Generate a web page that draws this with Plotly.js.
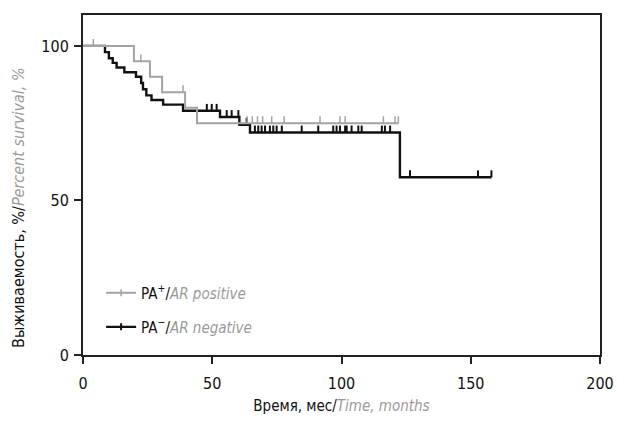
<!DOCTYPE html>
<html>
<head>
<meta charset="utf-8">
<script src="https://cdn.plot.ly/plotly-3.0.1.min.js"></script>
<style>html,body{margin:0;padding:0;background:#fff;}#chart{width:617px;height:429px;}</style>
</head>
<body>
<div id="chart"></div>
<script>
// ---- Data ----
// PA+/AR positive: step times (months) and survival (%)
const posTimes = [0, 19.7, 25.9, 30.6, 39.5, 44.1, 122];
const posSurv  = [100, 95, 90, 85, 80, 75, 75];
const posCensor = [4, 22.4, 38.7, 63.5, 65.5, 67.5, 69.5, 73, 77.8, 91.7, 99.4, 101.4, 116.2, 120.7, 122];

// PA-/AR negative
const negTimes = [0, 8.5, 10, 11.5, 13, 16, 20.5, 22.5, 23.2, 24.5, 26.5, 31, 38.7, 53, 60.5, 64.6, 122.6, 158];
const negSurv  = [100, 98, 96, 94.5, 93, 91.5, 90, 88, 86, 84, 82.5, 81, 79, 77, 74.5, 72, 57.5, 57.5];
const negCensor = [47.9, 49.8, 51.7, 55.6, 57.5, 60.1, 63.3, 66.5, 67.8, 69.1, 70.4, 72.3, 73.6, 74.9, 76.9, 84.6, 91.0, 96.8, 98.1, 99.4, 101.4, 102, 103.9, 106.5, 107.8, 115.6, 116.8, 118.8, 126.5, 152.8, 158];

const xTicks = [0, 50, 100, 150, 200];
const yTicks = [0, 50, 100];

const posLabel = "PA<sup>+</sup>/<i><span style='color:#9a9a9a'>AR positive</span></i>";
const negLabel = "PA<sup>−</sup>/<i><span style='color:#9a9a9a'>AR negative</span></i>";
const xTitle = "Время, мес/<i><span style='color:#9a9a9a'>Time, months</span></i>";
const yTitle = "Выживаемость, %/<i><span style='color:#9a9a9a'>Percent survival, %</span></i>";

// ---- Styles ----
const FONT = "'DejaVu Sans Condensed', 'Liberation Sans Narrow', sans-serif";
const GREY = '#a3a3a3';
const BLACK = '#111111';
const TICK_UP = 1.1; // lift censor ticks so they stand on the line

function survAt(t, times, surv) {
  let v = surv[0];
  for (let i = 0; i < times.length; i++) { if (times[i] <= t) v = surv[i]; }
  return v;
}

const traces = [
  {x: negTimes, y: negSurv, mode: 'lines', line: {shape: 'hv', color: BLACK, width: 2.4}, showlegend: false, hoverinfo: 'skip'},
  {x: negCensor, y: negCensor.map(t => survAt(t, negTimes, negSurv) + TICK_UP), mode: 'markers',
   marker: {symbol: 'line-ns', size: 5, line: {color: BLACK, width: 2}}, showlegend: false, hoverinfo: 'skip'},
  {x: posTimes, y: posSurv, mode: 'lines', line: {shape: 'hv', color: GREY, width: 2}, showlegend: false, hoverinfo: 'skip'},
  {x: posCensor, y: posCensor.map(t => survAt(t, posTimes, posSurv) + TICK_UP), mode: 'markers',
   marker: {symbol: 'line-ns', size: 5, line: {color: GREY, width: 1.5}}, showlegend: false, hoverinfo: 'skip'},
  // legend entries
  {x: [null], y: [null], mode: 'lines+markers', name: posLabel, legend: 'legend',
   line: {color: GREY, width: 2}, marker: {symbol: 'line-ns', size: 5, line: {color: GREY, width: 1.5}}},
  {x: [null], y: [null], mode: 'lines+markers', name: negLabel, legend: 'legend2',
   line: {color: BLACK, width: 2.4}, marker: {symbol: 'line-ns', size: 5, line: {color: BLACK, width: 2}}}
];

const axisCommon = {
  showline: true, linecolor: '#222', linewidth: 2, mirror: true,
  ticks: 'outside', ticklen: 7, tickwidth: 2, tickcolor: '#222',
  showgrid: false, zeroline: false, tickfont: {family: FONT, size: 16, color: '#111'}
};

const layout = {
  width: 617, height: 429,
  margin: {l: 83, r: 17, t: 15, b: 74},
  paper_bgcolor: '#fff', plot_bgcolor: '#fff',
  font: {family: FONT, color: '#111'},
  xaxis: Object.assign({}, axisCommon, {range: [0, 200], tickvals: xTicks, ticklabelstandoff: 6,
    title: {text: xTitle, font: {family: FONT, size: 15, color: '#111'}, standoff: 8}}),
  yaxis: Object.assign({}, axisCommon, {range: [0, 110], tickvals: yTicks, ticklabelstandoff: 2}),
  annotations: [{
    text: yTitle, xref: 'paper', yref: 'paper', x: -0.126, y: 0.435,
    xanchor: 'center', yanchor: 'middle', textangle: -90, showarrow: false,
    font: {family: FONT, size: 16, color: '#111'}
  }],
  legend: {x: 0.035, y: 0.182, yanchor: 'middle', xanchor: 'left', bgcolor: 'rgba(0,0,0,0)',
    itemwidth: 30, font: {family: FONT, size: 15, color: '#111'}},
  legend2: {x: 0.035, y: 0.082, yanchor: 'middle', xanchor: 'left', bgcolor: 'rgba(0,0,0,0)',
    itemwidth: 30, font: {family: FONT, size: 15, color: '#111'}},
  showlegend: true
};

Plotly.newPlot('chart', traces, layout, {staticPlot: true, displayModeBar: false});
</script>
</body>
</html>
